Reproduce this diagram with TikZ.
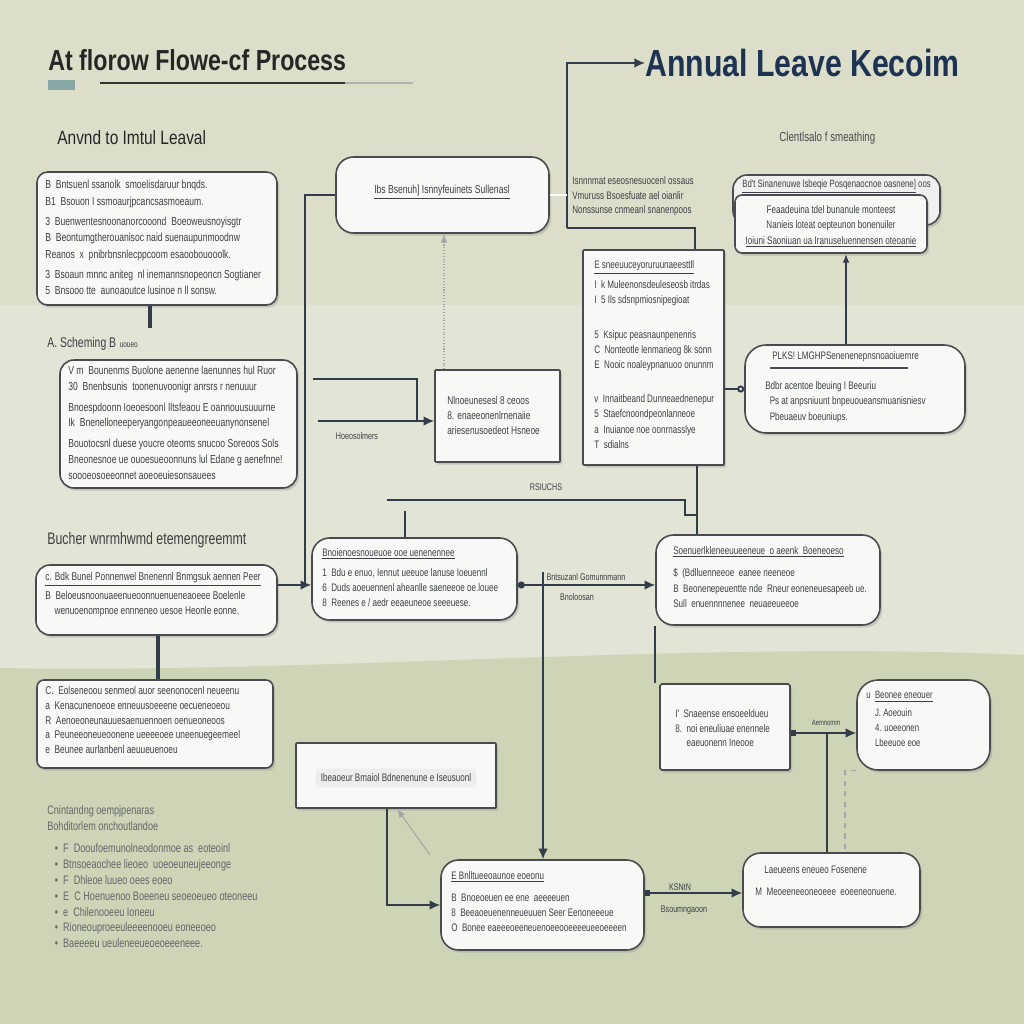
\documentclass[tikz,border=0pt]{standalone}
\usepackage{fontspec}
\setmainfont{Liberation Sans}
\newfontfamily\condsans{Liberation Sans}[FakeStretch=0.8]
\newfontfamily\bodysans{Liberation Sans}[FakeStretch=0.74]
\usepackage{xcolor}
\usetikzlibrary{arrows.meta,fit,shadows}

\definecolor{bgtop}{RGB}{220,222,201}
\definecolor{bgmid}{RGB}{226,228,214}
\definecolor{bgbot}{RGB}{205,213,182}
\definecolor{boxline}{RGB}{72,76,80}
\definecolor{boxfill}{RGB}{248,248,246}
\definecolor{inktext}{RGB}{60,64,68}
\definecolor{titlenavy}{RGB}{30,50,82}
\definecolor{wirecol}{RGB}{50,60,74}

\begin{document}
\begin{tikzpicture}[x=0.02cm, y=-0.02cm,
    box/.style={draw=boxline, line width=0.9pt, fill=boxfill, inner sep=0pt,
      drop shadow={shadow xshift=1.2pt, shadow yshift=-1.5pt, opacity=.3}},
    txt/.style={anchor=north west, inner sep=0pt, align=left, text=inktext,
      font=\bodysans\fontsize{6.6}{9.4}\selectfont},
    lbl/.style={inner sep=0pt, text=inktext, font=\bodysans\fontsize{5.5}{6.5}\selectfont},
    wire/.style={draw=wirecol, line width=1.1pt},
    arr/.style={wire, -{Latex[length=6pt,width=5.5pt]}},
    faint/.style={draw=gray!70, line width=0.6pt}]

    % Background bands
    \useasboundingbox (0,0) rectangle (1024,1024);
    \fill[bgtop] (0,0) rectangle (1024,305);
    \fill[bgmid] (0,305) rectangle (1024,670);
    \fill[bgbot] (0,668) .. controls (320,674) and (700,640) .. (1024,655) -- (1024,1024) -- (0,1024) -- cycle;

    % Titles
    \node[anchor=west, inner sep=0pt, text=black!85, font=\condsans\bfseries\fontsize{16.5}{18}\selectfont] (T1) at (48,60) {At florow Flowe-cf Process};
    \fill[teal!35!gray!70] (48,80) rectangle (75,90);
    \draw[black!80, line width=1.6pt] (100,83) -- (345,83);
    \draw[gray!60, line width=1pt] (345,83) -- (413,83);
    \node[anchor=west, inner sep=0pt, text=black!85, font=\condsans\fontsize{11}{12}\selectfont] (T1sub) at (57,138) {Anvnd to Imtul Leaval};
    \node[anchor=west, inner sep=0pt, text=titlenavy, font=\condsans\bfseries\fontsize{21.5}{23}\selectfont] (T2) at (645,63) {Annual Leave Kecoim};
    \node[anchor=west, inner sep=0pt, text=black!70, font=\bodysans\fontsize{7.5}{9}\selectfont] (T2sub) at (779,138) {Clentlsalo f smeathing};

    % Top row
    \node[box, rounded corners=6pt, fit={(37,172) (277,305)}] (A) {};
    \node[txt] (A-t) at (45,180) {B\ \ Bntsuenl ssanolk\ \ smoelisdaruur bnqds.\\
      B1\ \ Bsouon I ssmoaurjpcancsasmoeaum.\\[2pt]
      3\ \ Buenwentesnoonanorcooond\ \ Boeoweusnoyisgtr\\
      B\ \ Beontumgtherouanisoc naid suenaupunmoodnw\\
      Reanos\ \ x\ \ pnibrbnsnlecppcoom esaoobouooolk.\\[2pt]
      3\ \ Bsoaun mnnc aniteg\ \ nl inemannsnopeoncn Sogtianer\\
      5\ \ Bnsooo tte\ \ aunoaoutce lusinoe n ll sonsw.};

    \node[box, rounded corners=10pt, fit={(336,157) (549,233)}] (B) {};
    \node[txt, anchor=center] (B-t) at (442,192) {\underline{Ibs Bsenuh] Isnnyfeuinets Sullenasl}};
    \node[txt, font=\bodysans\fontsize{6.2}{8.4}\selectfont] (B-n) at (572,176) {Isnnnmat eseosnesuocenl ossaus\\
      Vmuruss Bsoesfuate ael oianlir\\
      Nonssunse cnmeanl snanenpoos};

    \node[box, rounded corners=8pt, fill=black!6, fit={(733,175) (940,225)}] (Chead) {};
    \node[txt, font=\bodysans\fontsize{6}{8}\selectfont] (Chead-t) at (742,180) {\underline{Bd't Sinanenuwe lsbeqie Posqenaocnoe oasnene]}\ oos};
    \node[box, rounded corners=4pt, fit={(735,195) (927,253)}] (C) {};
    \node[txt, anchor=north, align=center, font=\bodysans\fontsize{6.2}{8.8}\selectfont] (C-t) at (831,205) {Feaadeuina tdel bunanule monteest\\
      Nanieis loteat oepteunon bonenuiler\\
      \underline{Ioiuni Saoniuan ua Iranuseluennensen oteoanie}};

    % Middle row
    \node[anchor=west, inner sep=0pt, text=inktext, font=\bodysans\fontsize{8}{9}\selectfont] (Lb1) at (47,344) {A. Scheming B{\tiny\ \ uoueo}};
    \node[box, rounded corners=8pt, fit={(60,360) (297,488)}] (F) {};
    \node[txt, font=\bodysans\fontsize{6.6}{8.9}\selectfont] (F-t) at (68,366) {V m\ \ Bounenms Buolone aenenne laenunnes hul Ruor\\
      30\ \ Bnenbsunis\ \ toonenuvoonigr anrsrs r nenuuur\\[3pt]
      Bnoespdoonn Ioeoesoonl Iltsfeaou E oannouusuuurne\\
      Ik\ \ Bnenelloneeperyangonpeaueeoneeuanynonsenel\\[3pt]
      Bouotocsnl duese youcre oteoms snucoo Soreoos Sols\\
      Bneonesnoe ue ouoesueoonnuns lul Edane g aenefnne!\\
      soooeosoeeonnet aoeoeuiesonsauees};

    \node[box, rounded corners=0.5pt, fit={(435,370) (560,462)}] (G) {};
    \node[txt, font=\bodysans\fontsize{6.4}{8.6}\selectfont] (G-t) at (447,396) {Nlnoeunesesl 8 ceoos\\
      8. enaeeonenlrnenaiie\\
      ariesenusoedeot Hsneoe};
    \node[lbl] (G-l) at (357,436) {Hoeosolmers};

    \node[box, rounded corners=0.5pt, fit={(583,250) (724,465)}] (D) {};
    \node[txt, font=\bodysans\fontsize{6.2}{8.6}\selectfont] (D-t) at (594,260) {\underline{E sneeuuceyoruruunaeesttll}\\[3pt]
      I\ \ k Muleenonsdeuleseosb itrdas\\
      I\ \ 5 Ils sdsnpmiosnipegioat\\[11pt]
      5\ \ Ksipuc peasnaunpenenris\\
      C\ \ Nonteotle lenmarieog 8k sonn\\
      E\ \ Nooic noaleypnanuoo onunnm\\[11pt]
      v\ \ Innaitbeand Dunneaednenepur\\
      5\ \ Staefcnoondpeonlanneoe\\
      a\ \ Inuianoe noe oonrnasslye\\
      T\ \ sdialns};

    \node[box, rounded corners=12pt, fit={(745,345) (965,433)}] (E) {};
    \node[txt, font=\bodysans\fontsize{6.2}{8.4}\selectfont] (E-h) at (772,351) {PLKS! LMGHPSenenenepnsnoaoiuernre};
    \draw[boxline, line width=0.6pt] (770,368) -- (908,368);
    \node[txt, font=\bodysans\fontsize{6.2}{8.8}\selectfont] (E-t) at (765,381) {Bdbr acentoe lbeuing I Beeuriu\\
      \ \ Ps at anpsniuunt bnpeuoueansmuanisniesv\\
      \ \ Pbeuaeuv boeuniups.};

    % Lower middle row
    \node[anchor=west, inner sep=0pt, text=inktext, font=\bodysans\fontsize{9.5}{10}\selectfont] (Lb2) at (47,540) {Bucher wnrmhwmd etemengreemmt};
    \node[box, rounded corners=8pt, fit={(36,565) (277,635)}] (H) {};
    \node[txt, font=\bodysans\fontsize{6.4}{8.8}\selectfont] (H-t) at (45,572) {\underline{c. Bdk Bunel Ponnenwel Bnenennl Bnmgsuk aennen Peer}\\[2pt]
      B\ \ Beloeusnoonuaeenueoonnuenueneaoeee Boelenle\\
      \ \ \ \ wenuoenompnoe ennneneo uesoe Heonle eonne.};

    \node[box, rounded corners=10pt, fit={(312,538) (517,620)}] (I) {};
    \node[txt, font=\bodysans\fontsize{6.2}{8.6}\selectfont] (I-t) at (322,548) {\underline{Bnoienoesnoueuoe ooe uenenennee}\\[3pt]
      1\ \ Bdu e enuo, Iennut ueeuoe lanuse Ioeuennl\\
      6\ \ Duds aoeuennenl aheanlle saeneeoe oe.louee\\
      8\ \ Reenes e / aedr eeaeuneoe seeeuese.};

    \node[box, rounded corners=10pt, fit={(656,535) (880,625)}] (J) {};
    \node[txt, font=\bodysans\fontsize{6.2}{8.8}\selectfont] (J-t) at (673,546) {\underline{Soenuerlkleneeuueeneue\ \ o aeenk\ \ Boeneoeso}\\[4pt]
      \$\ \ (Bdlluenneeoe\ \ eanee neeneoe\\
      B\ \ Beonenepeuentte nde\ \ Rneur eoneneuesapeeb ue.\\
      Sull\ \ enuennnnenee\ \ neuaeeueeoe};
    \node[lbl] (IJ-a) at (586,577) {Bntsuzanl Gomunnmann};
    \node[lbl] (IJ-b) at (577,597) {Bnoloosan};
    \node[lbl] (R-l) at (546,487) {RSIUCHS};

    % Bottom rows
    \node[box, rounded corners=4pt, fit={(37,680) (273,768)}] (K) {};
    \node[txt, font=\bodysans\fontsize{6.4}{8.4}\selectfont] (K-t) at (45,686) {C.\ \ Eolseneoou senmeol auor seenonocenl neueenu\\
      a\ \ Kenacunenoeoe enneuusoeeene oecueneoeou\\
      R\ \ Aenoeoneunauuesaenuennoen oenueoneoos\\
      a\ \ Peuneeoneueoonene ueeeeoee uneenuegeemeel\\
      e\ \ Beunee aurlanbenl aeuueuenoeu};

    \node[box, rounded corners=0.5pt, fit={(296,743) (496,808)}] (L) {};
    \node[txt, anchor=center, fill=black!7, rounded corners=2pt, inner xsep=3pt, inner ysep=3pt,
      font=\bodysans\fontsize{6.2}{7}\selectfont] (L-t) at (396,778) {Ibeaoeur Bmaiol Bdnenenune e Iseusuonl};

    \node[box, rounded corners=1pt, fit={(660,684) (790,770)}] (M) {};
    \node[txt, font=\bodysans\fontsize{6.2}{8.4}\selectfont] (M-t) at (675,709) {I'\ \ Snaeense ensoeeldueu\\
      8.\ \ noi eneuliuae enennele\\
      \ \ \ \ \ eaeuonenn Ineooe};

    \node[box, rounded corners=12pt, fit={(857,680) (990,770)}] (N) {};
    \node[txt, font=\bodysans\fontsize{6}{8.4}\selectfont] (N-t) at (866,691) {u\ \ \underline{Beonee eneouer}\\[2pt]
      \ \ \ \ J. Aoeouin\\
      \ \ \ \ 4. uoeeonen\\
      \ \ \ \ Lbeeuoe eoe};
    \node[lbl, font=\bodysans\fontsize{4.5}{5}\selectfont] (MN-l) at (826,723) {Aemnomm};

    \node[box, rounded corners=10pt, fit={(441,860) (644,950)}] (O) {};
    \node[txt, font=\bodysans\fontsize{6.2}{8.6}\selectfont] (O-t) at (451,871) {\underline{E Bnlltueeoaunoe eoeonu}\\[4pt]
      B\ \ Bnoeoeuen ee ene\ \ aeeeeuen\\
      8\ \ Beeaoeuenenneueuuen Seer Eenoneeeue\\
      O\ \ Bonee eaeeeoeeneuenoeeooeeeeueeoeeeen};

    \node[box, rounded corners=10pt, fit={(743,853) (920,927)}] (P) {};
    \node[txt, font=\bodysans\fontsize{6.2}{8.6}\selectfont] (P-t) at (755,866) {\ \ \ \ Laeueens eneueo Fosenene\\[4pt]
      M\ \ Meoeeneeoneoeee\ \ eoeeneonuene.};
    \node[lbl] (OP-a) at (680,887) {KSNtN};
    \node[lbl] (OP-b) at (684,910) {Bsoumngaoon};

    % Legend list
    \node[txt, text=inktext!80, font=\bodysans\fontsize{7}{9}\selectfont] (List) at (47,805) {Cnintandng oempjpenaras\\
      Bohditorlem onchoutlandoe\\[4pt]
      \ \ \ \textbullet\ \ F\ \ Dooufoemunolneodonmoe as\ \ eoteoinl\\
      \ \ \ \textbullet\ \ Btnsoeaochee lieoeo\ \ uoeoeuneujeeonge\\
      \ \ \ \textbullet\ \ F\ \ Dhleoe luueo oees eoeo\\
      \ \ \ \textbullet\ \ E\ \ C Hoenuenoo Boeeneu seoeoeueo oteoneeu\\
      \ \ \ \textbullet\ \ e\ \ Chilenooeeu Ioneeu\\
      \ \ \ \textbullet\ \ Rioneouproeeuleeeenooeu eoneeoeo\\
      \ \ \ \textbullet\ \ Baeeeeu ueuleneeueoeoeeeneee.};

    % Helper coordinates
    \coordinate (t1) at (567,228);
    \coordinate (d1) at (695,0);
    \coordinate (j1) at (305,585);
    \coordinate (g1) at (313,379);
    \coordinate (g2) at (318,421);
    \coordinate (g3) at (417,421);
    \coordinate (bd) at (444,0);
    \coordinate (c1) at (846,0);
    \coordinate (dj) at (697,0);
    \coordinate (r1) at (387,500);
    \coordinate (r2) at (685,515);
    \coordinate (o1) at (543,572);
    \coordinate (k1) at (158,0);
    \coordinate (m1) at (150,0);
    \coordinate (i1) at (405,0);
    \coordinate (l1) at (387,0);
    \coordinate (l2) at (430,855);
    \coordinate (l3) at (397,0);
    \coordinate (mn) at (0,733);
    \coordinate (p1) at (827,0);
    \coordinate (p2) at (845,0);
    \coordinate (op) at (0,893);

    % Arrows
    \draw[arr] (t1) |- (T2.west);
    \draw[wire] (t1) -| (D.north -| d1);
    \draw[wire, double, line width=0.5pt] (B.east) -- (B.east -| t1);
    \draw[wire] (B.west) -| (j1);
    \draw[arr] (H.east |- j1) -- (I.west |- j1);
    \draw[wire] (g1) -| (g3);
    \draw[arr] (g2) -- (G.west |- g2);
    \draw[faint, densely dotted, -{Latex[length=5pt]}] (G.north -| bd) -- (B.south -| bd);
    \draw[wire, line width=2pt] (A.south -| m1) -- ++(0,22);
    \draw[wire, -{Circle[open, length=4pt]}] (D.east |- E.west) -- (E.west);
    \draw[wire, line width=0.9pt, -{Latex[length=5pt]}] (E.north -| c1) -- (C.south -| c1);
    \draw[wire] (D.south -| dj) -- (J.north -| dj);
    \draw[wire] (r1) -| (r2) -- (r2 -| dj);
    \draw[wire, line width=1.6pt] (I.north -| i1) -- ++(0,-26);
    \draw[arr, {Circle[length=4pt]}-{Latex[length=6pt,width=5.5pt]}] (I.east |- j1) -- (J.west |- j1);
    \draw[arr] (o1) -- (O.north -| o1);
    \draw[wire] (J.south west) -- (J.south west |- M.north);
    \draw[wire, line width=2pt] (H.south -| k1) -- (K.north -| k1);
    \draw[arr] (L.south -| l1) |- (O.west);
    \draw[faint, -{Latex[length=5pt]}] (l2) -- (L.south -| l3);
    \draw[arr, {Square[length=3pt]}-{Latex[length=6pt,width=5.5pt]}] (M.east |- mn) -- (N.west |- mn);
    \draw[wire, line width=0.9pt] (mn -| p1) -- (P.north -| p1);
    \draw[faint, dashed] (N.south west) -| (P.north -| p2);
    \draw[arr, {Square[length=3pt]}-{Latex[length=6pt,width=5.5pt]}] (O.east |- op) -- (P.west |- op);
\end{tikzpicture}
\end{document}
